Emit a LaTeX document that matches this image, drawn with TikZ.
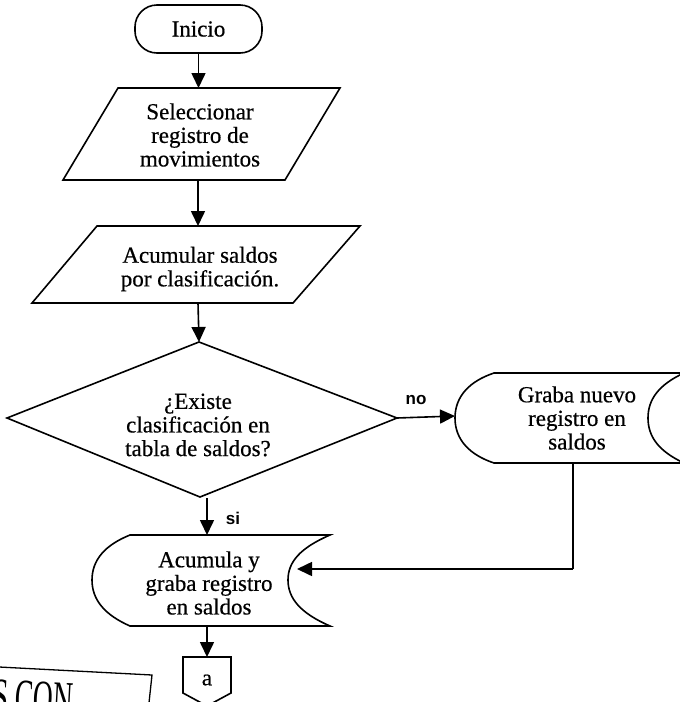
\documentclass[tikz,border=0pt]{standalone}
\usepackage{fontspec}
\setmainfont{Liberation Serif}
\newfontfamily\thick{Liberation Serif}[FakeBold=0.5]
\newfontfamily\labfont{Liberation Sans}
\usetikzlibrary{arrows.meta}
\begin{document}
\begin{tikzpicture}[x=1pt,y=-1pt,
  shapeline/.style={line width=1.6pt, line join=miter},
  txt/.style={font=\thick\fontsize{23}{23.6}\selectfont, align=center, inner sep=0pt},
  arr/.style={line width=1.6pt, -{Triangle[length=15pt,width=14pt]}},
  lab/.style={font=\labfont\bfseries\fontsize{17}{19}\selectfont, inner sep=0pt}]
\clip (0,0) rectangle (680,702);
\fill[white] (0,0) rectangle (680,702);

% Inicio
\node[draw, shapeline, rounded corners=22pt, minimum width=127pt, minimum height=48pt,
      txt] (inicio) at (198.5,29) {Inicio};

% Parallelogram 1
\draw[shapeline] (118,88) -- (340,88) -- (285,180) -- (63,180) -- cycle;
\node[txt] (sel) at (200,135) {Seleccionar\\registro de\\movimientos};
\coordinate (p1t) at (198.5,88);
\coordinate (p1b) at (198,180);

% Parallelogram 2
\draw[shapeline] (97,226) -- (360,226) -- (293,303) -- (32,303) -- cycle;
\node[txt] (acu) at (200,269) {Acumular saldos\\por clasificación.};
\coordinate (p2t) at (198,226);
\coordinate (p2b) at (198,303);

% Decision
\draw[shapeline] (199,342) -- (397,418) -- (200,497) -- (7,418) -- cycle;
\node[txt] (exi) at (198,425) {¿Existe\\clasificación en\\tabla de saldos?};
\coordinate (dt) at (199,342);
\coordinate (dr) at (397,418);
\coordinate (db) at (207,498);

% Graba nuevo registro (stored data)
\draw[shapeline] (494,373) -- (684,373)
  .. controls (658,385) and (648,400) .. (648,418)
  .. controls (648,436) and (658,451) .. (684,463)
  -- (494,463)
  .. controls (470,455) and (455,440) .. (455,418)
  .. controls (455,396) and (470,381) .. (494,373) -- cycle;
\node[txt] (gra) at (577,418) {Graba nuevo\\registro en\\saldos};
\coordinate (gl) at (455,416);
\coordinate (gb) at (573,463);
\coordinate (bend) at (573,569);

% Acumula y graba (stored data)
\draw[shapeline] (130,535) -- (330,535)
  .. controls (300,548) and (288,562) .. (288,580)
  .. controls (288,598) and (300,613) .. (330,626)
  -- (130,626)
  .. controls (105,615) and (92,600) .. (92,580)
  .. controls (92,560) and (105,545) .. (130,535) -- cycle;
\node[txt] (acg) at (209,583) {Acumula y\\graba registro\\en saldos};
\coordinate (at) at (207,535);
\coordinate (ar) at (297,569);
\coordinate (ab) at (207,626);

% Off-page connector a
\draw[shapeline] (183,657) -- (231,657) -- (231,693) -- (207,706) -- (183,693) -- cycle;
\node[txt] (cona) at (207,680) {a};
\coordinate (ct) at (207,657);

% Connectors
\draw[arr] (inicio.south) -- (p1t);
\draw[arr] (p1b) -- (p2t);
\draw[arr] (p2b) -- (dt);
\draw[arr] (dr) -- (gl);
\node[lab] (no) at (416,400) {no};
\draw[arr] (db) -- (at);
\node[lab] (si) at (233,518) {si};
\draw[line width=1.6pt] (gb) -- (bend);
\draw[arr] (bend) -- (ar);
\draw[arr] (ab) -- (ct);

% Stamp fragment
\draw[line width=1.3pt] (-20,666) -- (152,675) -- (148,712);
\node[inner sep=0pt, anchor=north west, rotate=-3, xscale=0.55,
      font=\fontsize{50}{50}\selectfont] (stamp) at (-6,679) {S CON};
\end{tikzpicture}
\end{document}
